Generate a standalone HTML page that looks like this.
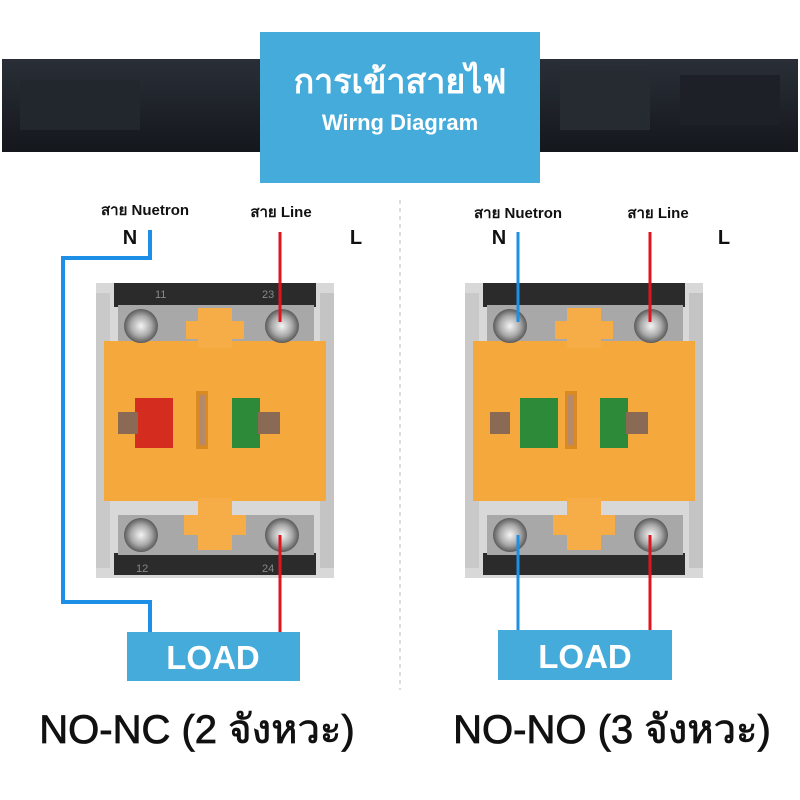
<!DOCTYPE html>
<html><head><meta charset="utf-8"><style>
html,body{margin:0;padding:0;background:#fff;width:800px;height:800px;overflow:hidden}
svg{display:block}
text{font-family:"Liberation Sans","Noto Sans CJK SC",sans-serif}
</style></head><body>
<svg width="800" height="800" viewBox="0 0 800 800" xmlns="http://www.w3.org/2000/svg">
<defs>
<linearGradient id="band" x1="0" y1="0" x2="0" y2="1"><stop offset="0" stop-color="#2a2f37"/><stop offset="1" stop-color="#14171c"/></linearGradient>
<radialGradient id="scr"><stop offset="0" stop-color="#f4f4f4"/><stop offset="0.6" stop-color="#a9a9a9"/><stop offset="1" stop-color="#5a5a5a"/></radialGradient>
<g id="sw">
 <rect x="0" y="0" width="238" height="295" fill="#d8d8d8"/>
 <rect x="0" y="10" width="14" height="275" fill="#c9c9c9"/>
 <rect x="224" y="10" width="14" height="275" fill="#c4c4c4"/>
 <rect x="18" y="0" width="202" height="24" fill="#2b2b2b"/>
 <rect x="18" y="270" width="202" height="22" fill="#2b2b2b"/>
 <rect x="22" y="22" width="196" height="38" fill="#a8a8a8"/>
 <rect x="22" y="232" width="196" height="40" fill="#a8a8a8"/>
 <rect x="8" y="58" width="222" height="160" fill="#f5a83c"/>
 <rect x="102" y="25" width="34" height="40" fill="#f6ad48"/>
 <rect x="90" y="38" width="58" height="18" fill="#f6ad48"/>
 <rect x="102" y="215" width="34" height="52" fill="#f6ad48"/>
 <rect x="88" y="232" width="62" height="20" fill="#f6ad48"/>
 <rect x="100" y="108" width="12" height="58" fill="#d98a25"/>
 <rect x="103" y="112" width="6" height="50" fill="#b58a6a"/>
 <circle cx="45" cy="43" r="17" fill="url(#scr)"/>
 <circle cx="186" cy="43" r="17" fill="url(#scr)"/>
 <circle cx="45" cy="252" r="17" fill="url(#scr)"/>
 <circle cx="186" cy="252" r="17" fill="url(#scr)"/>
</g>
</defs>
<rect width="800" height="800" fill="#fff"/>
<rect x="2" y="59" width="796" height="93" fill="url(#band)"/>
<rect x="20" y="80" width="120" height="50" fill="#22262d"/>
<rect x="560" y="70" width="90" height="60" fill="#262a31"/>
<rect x="680" y="75" width="100" height="50" fill="#1d2127"/>
<rect x="260" y="32" width="280" height="151" fill="#45abdb"/>
<text x="400" y="93" text-anchor="middle" font-size="34" font-weight="bold" fill="#fff">การเข้าสายไฟ</text>
<text x="400" y="130" text-anchor="middle" font-size="22" font-weight="bold" fill="#fff">Wirng Diagram</text>
<line x1="400" y1="200" x2="400" y2="690" stroke="#bbb" stroke-width="1" stroke-dasharray="4,4"/>

<use href="#sw" x="96" y="283"/>
<rect x="135" y="398" width="38" height="50" fill="#d42d20"/>
<rect x="232" y="398" width="28" height="50" fill="#2c8a38"/>
<rect x="118" y="412" width="20" height="22" fill="#8a6a55"/>
<rect x="258" y="412" width="22" height="22" fill="#8a6a55"/>
<text x="155" y="298" font-size="11" fill="#888">11</text>
<text x="262" y="298" font-size="11" fill="#888">23</text>
<text x="136" y="572" font-size="11" fill="#888">12</text>
<text x="262" y="572" font-size="11" fill="#888">24</text>
<use href="#sw" x="465" y="283"/>
<rect x="520" y="398" width="38" height="50" fill="#2c8a38"/>
<rect x="600" y="398" width="28" height="50" fill="#2c8a38"/>
<rect x="490" y="412" width="20" height="22" fill="#8a6a55"/>
<rect x="626" y="412" width="22" height="22" fill="#8a6a55"/>

<polyline points="150,230 150,258 63,258 63,602 150,602 150,635" fill="none" stroke="#1e8fe6" stroke-width="4"/>
<line x1="280" y1="232" x2="280" y2="322" stroke="#e0141c" stroke-width="3"/>
<line x1="280" y1="535" x2="280" y2="635" stroke="#e0141c" stroke-width="3"/>
<line x1="518" y1="232" x2="518" y2="322" stroke="#1e8fe6" stroke-width="3"/>
<line x1="518" y1="535" x2="518" y2="632" stroke="#1e8fe6" stroke-width="3"/>
<line x1="650" y1="232" x2="650" y2="322" stroke="#e0141c" stroke-width="3"/>
<line x1="650" y1="535" x2="650" y2="632" stroke="#e0141c" stroke-width="3"/>

<text x="145" y="215" text-anchor="middle" font-size="15" font-weight="bold" fill="#111">สาย Nuetron</text>
<text x="130" y="244" text-anchor="middle" font-size="20" font-weight="bold" fill="#111">N</text>
<text x="281" y="217" text-anchor="middle" font-size="15" font-weight="bold" fill="#111">สาย Line</text>
<text x="356" y="244" text-anchor="middle" font-size="20" font-weight="bold" fill="#111">L</text>
<text x="518" y="218" text-anchor="middle" font-size="15" font-weight="bold" fill="#111">สาย Nuetron</text>
<text x="499" y="244" text-anchor="middle" font-size="20" font-weight="bold" fill="#111">N</text>
<text x="658" y="218" text-anchor="middle" font-size="15" font-weight="bold" fill="#111">สาย Line</text>
<text x="724" y="244" text-anchor="middle" font-size="20" font-weight="bold" fill="#111">L</text>

<rect x="127" y="632" width="173" height="49" fill="#45abdb"/>
<text x="213" y="669" text-anchor="middle" font-size="33" font-weight="bold" fill="#fff">LOAD</text>
<rect x="498" y="630" width="174" height="50" fill="#45abdb"/>
<text x="585" y="668" text-anchor="middle" font-size="33" font-weight="bold" fill="#fff">LOAD</text>

<text x="197" y="743" text-anchor="middle" font-size="40" fill="#111" stroke="#111" stroke-width="0.8">NO-NC (2 จังหวะ)</text>
<text x="612" y="743" text-anchor="middle" font-size="40" fill="#111" stroke="#111" stroke-width="0.8">NO-NO (3 จังหวะ)</text>
</svg>
</body></html>
